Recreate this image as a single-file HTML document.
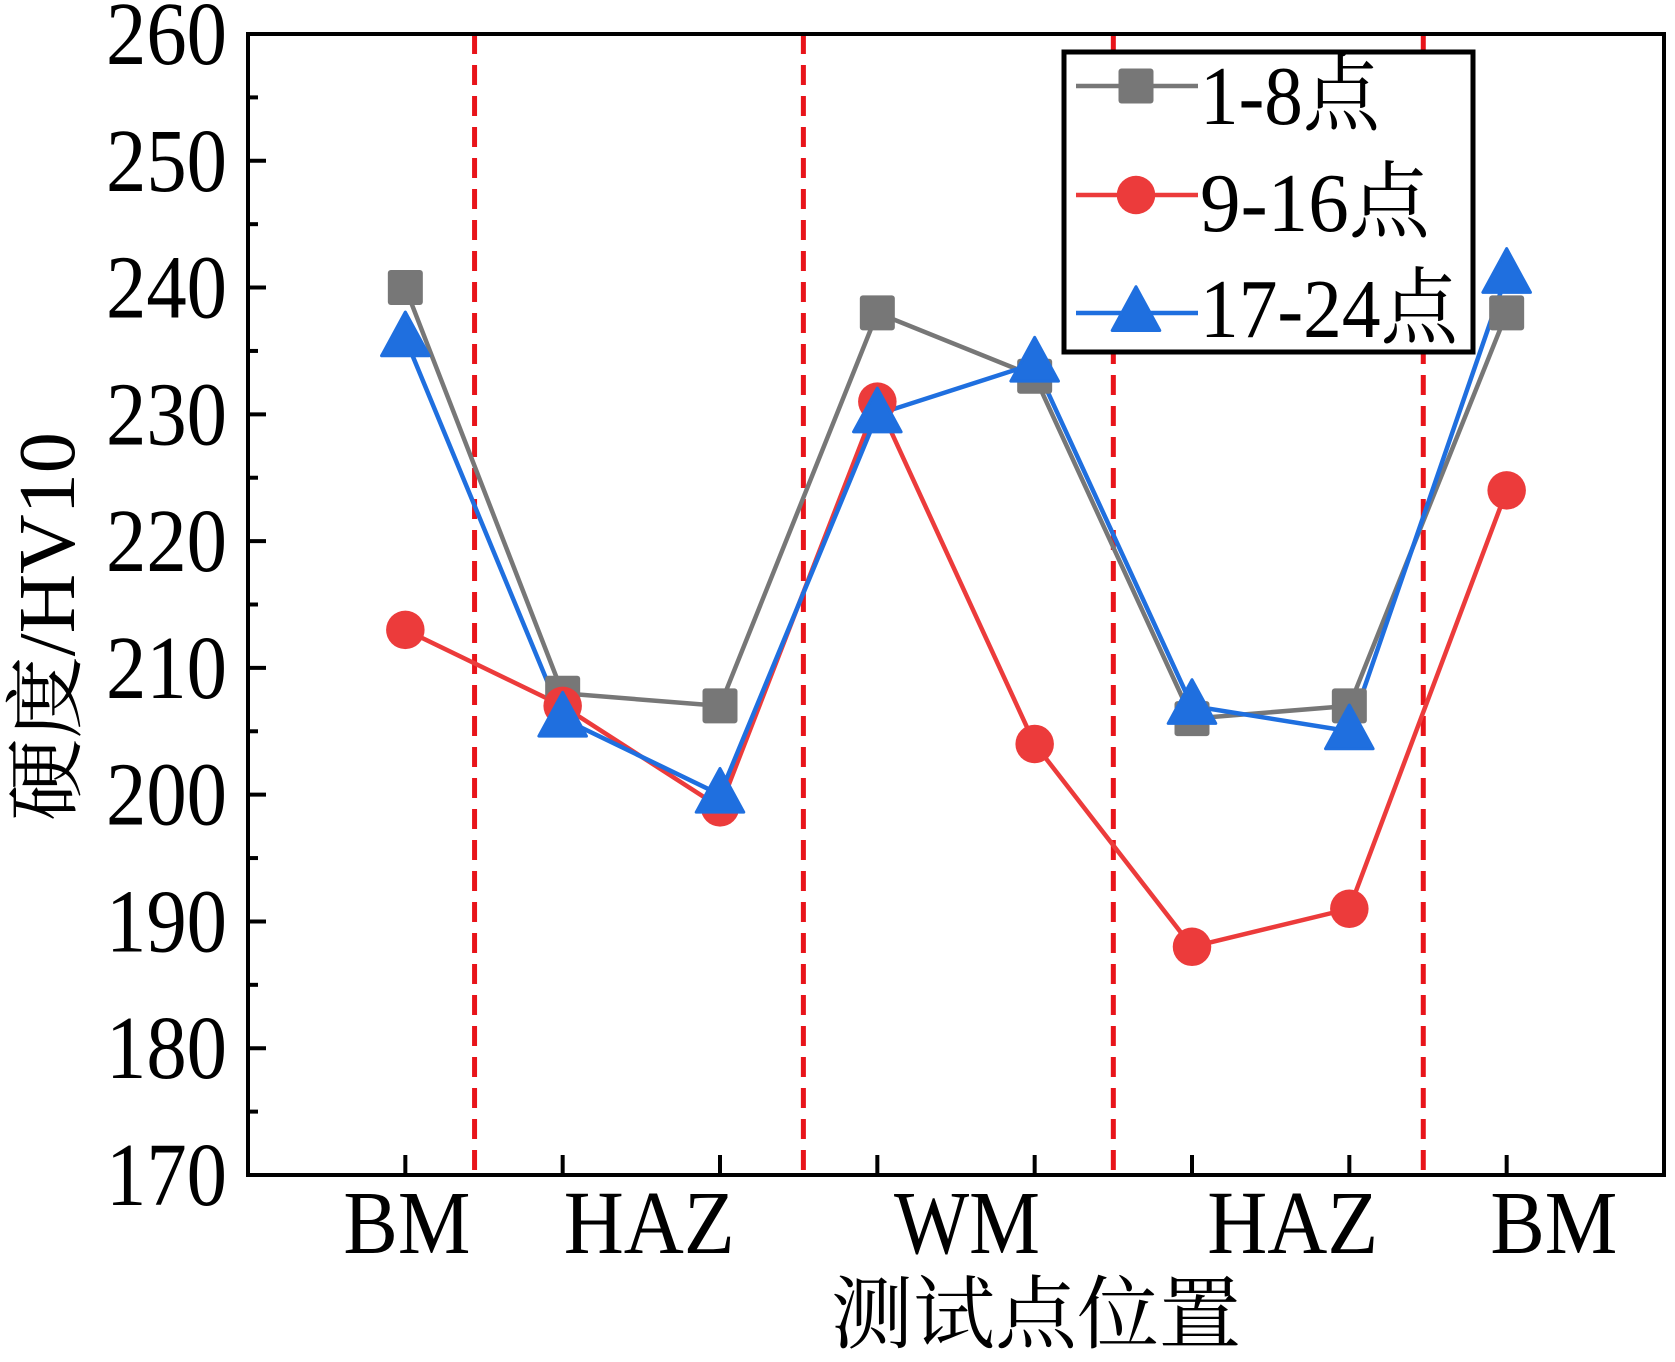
<!DOCTYPE html>
<html><head><meta charset="utf-8"><style>
html,body{margin:0;padding:0;background:#fff}
svg{display:block}
text{font-family:"Liberation Serif","Noto Serif CJK SC",serif;fill:#000}
</style></head><body>
<svg id="chart" width="1675" height="1362" viewBox="0 0 1675 1362" xmlns="http://www.w3.org/2000/svg">
<g id="grid"></g><g id="series"></g><g id="axes"></g><g id="legend"></g>
</svg>
<script>
const categories = ["BM","HAZ","WM","HAZ","BM"];
const categoryPos = [1.01, 2.55, 4.57, 6.64, 8.3];
const pointIdx = [1,2,3,4,5,6,7,8];
const s1 = [240,208,207,238,233,206,207,238];
const s2 = [213,207,199,231,204,188,191,224];
const s3 = [236,206,200,230,234,207,205,241];
const boundaries = [1.44,3.53,5.5,7.47];
const yTicks = [170,180,190,200,210,220,230,240,250,260];
const seriesNames = ["1-8点","9-16点","17-24点"];

const L=248,R=1664,T=34,B=1175;
const xs = v => L + (R-L)*v/9;
const ys = v => B - (B-T)*(v-170)/90;
const NS="http://www.w3.org/2000/svg";
function mk(tag, attrs, parent){const e=document.createElementNS(NS,tag);for(const k in attrs)e.setAttribute(k,attrs[k]);parent.appendChild(e);return e;}
const gGrid=document.getElementById('grid'),gSer=document.getElementById('series'),gAx=document.getElementById('axes'),gLeg=document.getElementById('legend');

boundaries.forEach(b=>{
  const l=mk('line',{x1:xs(b),x2:xs(b),y1:T,y2:B,stroke:'#e8141a','stroke-width':5,'stroke-dasharray':'20 11'},gGrid);
  
  
});

const colors=['#777777','#ec3b3b','#1f6fdf'];
const data=[s1,s2,s3];
function marker(k,x,y,g,sz){
  let m;
  if(k===0) m=mk('rect',{x:x-sz*0.5,y:y-sz*0.5,width:sz,height:sz,rx:3,fill:colors[0]},g);
  else if(k===1) m=mk('circle',{cx:x,cy:y,r:sz*0.55,fill:colors[1]},g);
  else m=mk('polygon',{points:`${x},${y-sz*0.75} ${x-sz*0.68},${y+sz*0.5} ${x+sz*0.68},${y+sz*0.5}`,fill:colors[2],'stroke':colors[2],'stroke-width':3,'stroke-linejoin':'round'},g);
  return m;
}
data.forEach((arr,k)=>{
  const pts=arr.map((v,i)=>xs(pointIdx[i])+','+ys(v)).join(' ');
  const pl=mk('polyline',{points:pts,fill:'none',stroke:colors[k],'stroke-width':4.5},gSer);
  
  
});
data.forEach((arr,k)=>{
  arr.forEach((v,i)=>{
    const m=marker(k,xs(pointIdx[i]),ys(v),gSer,35);
    
    
  });
});

const fr=mk('rect',{x:L,y:T,width:R-L,height:B-T,fill:'none',stroke:'#000','stroke-width':4},gAx);


yTicks.forEach((t,i)=>{
  const y=ys(t);
  const tk=mk('line',{x1:L,x2:L+18,y1:y,y2:y,stroke:'#000','stroke-width':4},gAx);
  
  
  if(i<yTicks.length-1){
    const ym=ys(t+5);
    const mt=mk('line',{x1:L,x2:L+10,y1:ym,y2:ym,stroke:'#000','stroke-width':4},gAx);
    
    
  }
  const tx=mk('text',{x:106,y:y+30,'font-size':90,textLength:121,lengthAdjust:'spacingAndGlyphs'},gAx);
  tx.textContent=t;
  
  
});
pointIdx.forEach(p=>{
  const tk=mk('line',{x1:xs(p),x2:xs(p),y1:B,y2:B-20,stroke:'#000','stroke-width':4},gAx);
  
  
});
categories.forEach((c,i)=>{
  const w = c.length===3?171:(c==='WM'?146:127);
  const tx=mk('text',{x:xs(categoryPos[i])-w/2,y:1253,'font-size':90,textLength:w,lengthAdjust:'spacingAndGlyphs'},gAx);
  tx.textContent=c;
  
  
});
const xt=mk('text',{x:831,y:1342,'font-size':80,textLength:410,lengthAdjust:'spacingAndGlyphs'},gAx);
xt.textContent='测试点位置';


const yt=mk('text',{x:-194,y:0,'font-size':80,textLength:389,lengthAdjust:'spacingAndGlyphs',transform:'translate(74,627) rotate(-90)'},gAx);
yt.textContent='硬度/HV10';



const lb=mk('rect',{x:1064,y:52,width:409,height:300,fill:'#fff',stroke:'#000','stroke-width':5},gLeg);


const legY=[86,195,313];
const legBase=[124,231,337];
const legW=[180,230,258];
seriesNames.forEach((n,k)=>{
  const g=mk('g',{},gLeg);
  
  
  mk('line',{x1:1076,x2:1198,y1:legY[k],y2:legY[k],stroke:colors[k],'stroke-width':4.5},g);
  marker(k,1136,legY[k],g,35);
  const tx=mk('text',{x:1200,y:legBase[k],'font-size':84,textLength:legW[k],lengthAdjust:'spacingAndGlyphs'},g);
  tx.textContent=n;
});
</script>
</body></html>
